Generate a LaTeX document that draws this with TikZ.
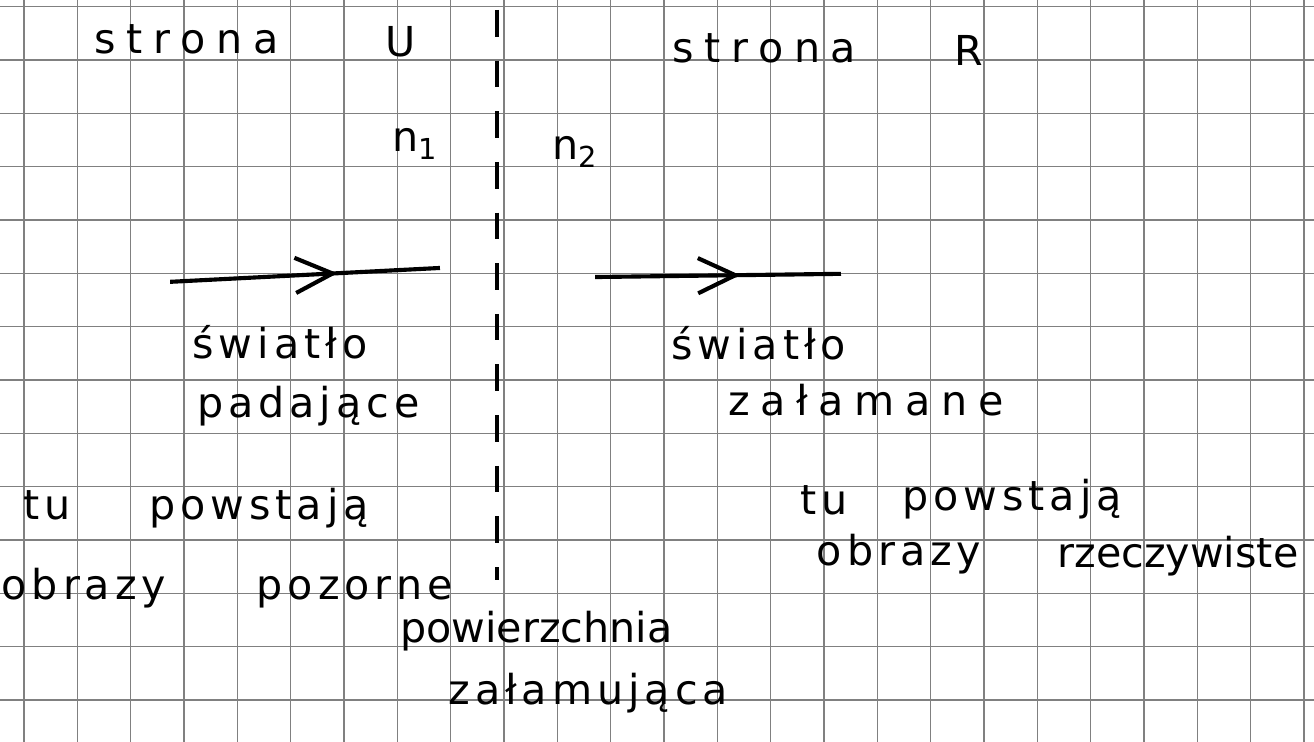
\documentclass[tikz,border=0pt]{standalone}
\usepackage{fontspec}
\setmainfont{DejaVu Sans}[LetterSpace=12]
\usepackage{tikz}
\usetikzlibrary{arrows.meta,decorations.markings}

\begin{document}
\begin{tikzpicture}[x=1cm,y=1cm,
  hand/.style={font=\fontsize{22}{26}\selectfont,anchor=base,inner sep=0pt},
  wide/.style={hand,font=\fontsize{22}{26}\selectfont\addfontfeature{LetterSpace=26}},
  narrow/.style={hand,font=\fontsize{22}{26}\selectfont\addfontfeature{LetterSpace=0}},
  gridline/.style={black!50,line width=0.7pt},
  surface/.style={line width=2.2pt,dash pattern=on 0.5cm off 0.45cm},
  ray/.style={line width=2.2pt,postaction={decorate},
    decoration={markings,mark=at position #1 with {\arrow{Straight Barb[length=0.7cm,width=0.66cm]}}}}]
  \useasboundingbox (-0.45,-0.7875) rectangle (24.19,13.125);
  \fill[white] (-0.45,-0.7875) rectangle (24.19,13.125);

  % squared paper
  \draw[gridline,step=1] (-0.45,-0.7875) grid (24.19,13.125);

  % refracting surface
  \coordinate (top) at (8.87,12.94);
  \coordinate (bot) at (8.87,2.25);
  \draw[surface] (top)--(bot);

  % sides and indices
  \node[wide] (sideL) at (3.05,12.13) {strona};
  \node[hand] (letU)  at (7.07,12.06) {U};
  \node[wide] (sideR) at (13.88,11.96) {strona};
  \node[hand] (letR)  at (17.72,11.9) {R};
  \node[hand] (n1) at (7.33,10.28) {n\textsubscript{1}};
  \node[hand] (n2) at (10.33,10.13) {n\textsubscript{2}};

  % rays
  \coordinate (inA) at (2.74,7.84);
  \coordinate (inB) at (7.8,8.1);
  \draw[ray=0.62] (inA)--(inB);
  \coordinate (outA) at (10.71,7.93);
  \coordinate (outB) at (15.32,7.99);
  \draw[ray=0.59] (outA)--(outB);

  % ray labels
  \node[hand] (lightL) at (4.8,6.41)  {światło};
  \node[hand] (fall)   at (5.33,5.29) {padające};
  \node[hand] (lightR) at (13.78,6.38) {światło};
  \node[wide] (bent)   at (15.79,5.34) {załamane};

  % images
  \node[hand] (tuL)   at (0.44,3.38)  {tu};
  \node[hand] (riseL) at (4.41,3.38)  {powstają};
  \node[hand] (imgL)  at (1.125,1.875) {obrazy};
  \node[hand] (virt)  at (6.2,1.875)  {pozorne};
  \node[hand] (tuR)   at (15.01,3.47) {tu};
  \node[hand] (riseR) at (18.53,3.56) {powstają};
  \node[hand] (imgR)  at (16.41,2.53) {obrazy};
  \node[narrow] (real) at (21.64,2.49) {rzeczywiste};

  % surface label
  \node[narrow] (surf) at (9.61,1.07) {powierzchnia};
  \node[hand] (refr) at (10.58,-0.09) {załamująca};
\end{tikzpicture}
\end{document}
